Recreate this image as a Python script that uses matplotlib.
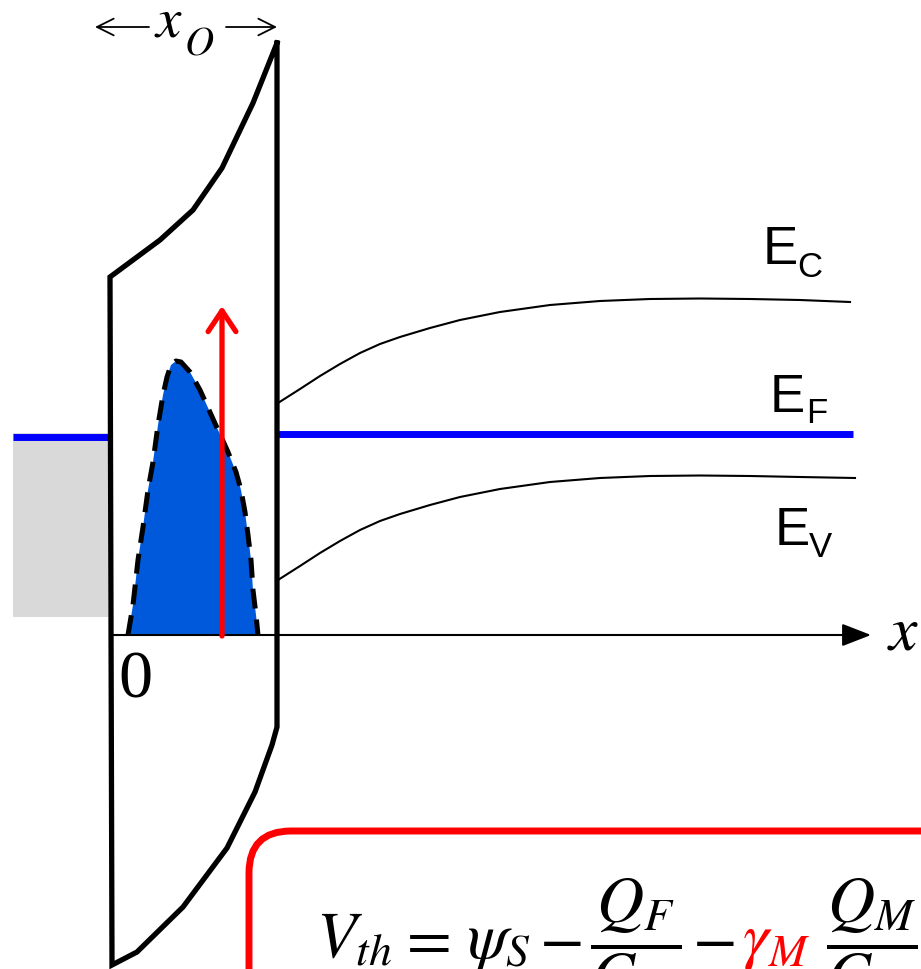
import matplotlib
matplotlib.use("Agg")
import matplotlib.pyplot as plt
from matplotlib.patches import Polygon, Rectangle, FancyBboxPatch

plt.rcParams['mathtext.fontset'] = 'stix'

# ---- diagram geometry (pixel space of the reference) ----
oxide_x = [277, 277, 272, 255, 227, 183, 137, 112, 110, 160, 193, 222, 253, 277]
oxide_y = [43, 727, 745, 792, 848, 907, 952, 965, 277, 240, 210, 168, 103, 43]

ec_x = [278, 300, 320, 340, 360, 380, 400, 430, 460, 500, 550, 600, 650, 700, 750, 800, 850]
ec_y = [403, 389, 376, 364, 353, 344, 337, 328, 320, 312, 305, 301, 299, 298.5, 299, 300, 302]
ev_x = [278, 300, 320, 340, 360, 380, 400, 430, 460, 500, 550, 600, 650, 700, 750, 800, 855]
ev_y = [580, 566, 553, 541, 530, 521, 514, 505, 497, 489, 482, 478, 476, 475.5, 476, 477, 478]

charge_x = [128, 133, 138, 143, 148, 153, 158, 163, 167, 171, 176,
            181, 190, 200, 209, 218, 228, 236, 241, 245, 248, 251, 253, 256, 258]
charge_y = [635, 605, 560, 527, 490, 462, 425, 395, 377, 365, 361,
            362, 372, 390, 410, 430, 452, 472, 490, 512, 535, 560, 590, 615, 635]

ef_left = (13, 108, 437)
ef_right = (278, 853, 433.5)
metal_box = (13, 433, 95, 184)
axis_y = 635
arrow_x = 222

fig = plt.figure(figsize=(9.21, 9.69), dpi=100)
ax = fig.add_axes([0, 0, 1, 1])
ax.set_xlim(0, 921)
ax.set_ylim(969, 0)
ax.axis('off')

# metal (gray) region
ax.add_patch(Rectangle((metal_box[0], metal_box[1]), metal_box[2], metal_box[3],
                       facecolor='#d9d9d9', edgecolor='none', zorder=1))

# Fermi level
ax.plot([ef_left[0], ef_left[1]], [ef_left[2], ef_left[2]], color='#0000ff', lw=5, solid_capstyle='butt', zorder=3)
ax.plot([ef_right[0], ef_right[1]], [ef_right[2], ef_right[2]], color='#0000ff', lw=5, solid_capstyle='butt', zorder=3)

# band edges
ax.plot(ec_x, ec_y, color='black', lw=1.5, zorder=3, solid_joinstyle='round')
ax.plot(ev_x, ev_y, color='black', lw=1.5, zorder=3, solid_joinstyle='round')

# charge distribution
pts = list(zip(charge_x, charge_y))
ax.add_patch(Polygon(pts, closed=True, facecolor='#0059db', edgecolor='none', zorder=2))
ax.plot(charge_x, charge_y, color='black', lw=3.6, linestyle=(0, (4, 2.2)), zorder=4)

# x axis
ax.annotate('', xy=(871, axis_y), xytext=(112, axis_y),
            arrowprops=dict(arrowstyle='-|>,head_length=0.9,head_width=0.35', color='black',
                            lw=1.5, shrinkA=0, shrinkB=0, mutation_scale=20), zorder=5)

# oxide outline
ax.plot(oxide_x, oxide_y, color='black', lw=3.8, solid_joinstyle='miter', zorder=6)

# red arrow
ax.annotate('', xy=(arrow_x, 306), xytext=(arrow_x, 636),
            arrowprops=dict(arrowstyle='->,head_length=0.75,head_width=0.5', color='#ff0000',
                            lw=3.8, shrinkA=0, shrinkB=0, mutation_scale=20,
                            capstyle='round', joinstyle='round'), zorder=7)

# x_O label with arrows
ax.annotate('', xy=(95, 27), xytext=(149, 27),
            arrowprops=dict(arrowstyle='->,head_length=0.6,head_width=0.3', color='black',
                            lw=1.3, shrinkA=0, shrinkB=0, mutation_scale=20))
ax.annotate('', xy=(277, 27), xytext=(226, 27),
            arrowprops=dict(arrowstyle='->,head_length=0.6,head_width=0.3', color='black',
                            lw=1.3, shrinkA=0, shrinkB=0, mutation_scale=20))
ax.text(154, 36, r'$x$', fontsize=41, ha='left', va='baseline')
ax.text(184, 54, r'$O$', fontsize=29, ha='left', va='baseline')

# axis labels
ax.text(903, 650, r'$x$', fontsize=46, ha='center', va='baseline')
ax.text(135, 698, '0', fontsize=49, family='Liberation Serif', ha='center', va='baseline')

# band labels
sans = 'Liberation Sans'
ax.text(763, 264, 'E', fontsize=38, family=sans, ha='left', va='baseline')
ax.text(797, 277, 'C', fontsize=25, family=sans, ha='left', va='baseline')
ax.text(770, 412, 'E', fontsize=38, family=sans, ha='left', va='baseline')
ax.text(806, 423, 'F', fontsize=25, family=sans, ha='left', va='baseline')
ax.text(775, 545, 'E', fontsize=38, family=sans, ha='left', va='baseline')
ax.text(809, 557, 'V', fontsize=25, family=sans, ha='left', va='baseline')

# formula box
ax.add_patch(FancyBboxPatch((249, 831), 800, 400,
                            boxstyle='round,pad=0,rounding_size=42',
                            facecolor='white', edgecolor='#ff0000', lw=5, zorder=8))
fs = 47
base = 958
ax.text(316, base, r'$V_{th}$', fontsize=fs, ha='left', va='baseline', zorder=9)
ax.text(397, base, r'$=$', fontsize=fs, ha='left', va='baseline', zorder=9)
ax.text(467, base, r'$\psi_S$', fontsize=fs, ha='left', va='baseline', zorder=9)
ax.text(539, base, r'$-$', fontsize=fs, ha='left', va='baseline', zorder=9)
ax.text(636, base, r'$\dfrac{Q_F}{C_{ox}}$', fontsize=fs, ha='center', va='baseline', zorder=9)
ax.text(692, base, r'$-$', fontsize=fs, ha='left', va='baseline', zorder=9)
ax.text(742, base, r'$\gamma_M$', fontsize=fs, ha='left', va='baseline', color='#ff0000', zorder=9)
ax.text(872, base, r'$\dfrac{Q_M}{C_{ox}}$', fontsize=fs, ha='center', va='baseline', zorder=9)

fig.savefig('out.png', dpi=100)
